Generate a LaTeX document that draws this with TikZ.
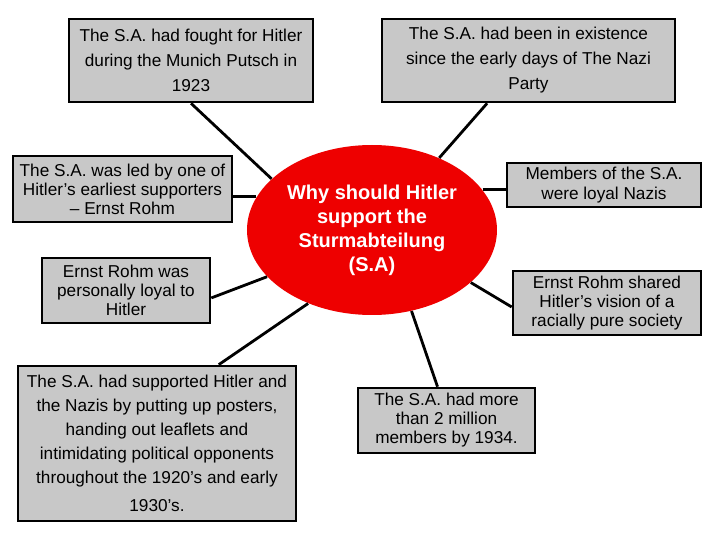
\documentclass[tikz,border=0pt]{standalone}
\usepackage{fontspec}
\setmainfont{Liberation Sans}
\usetikzlibrary{shapes.geometric,calc}
\definecolor{boxgray}{RGB}{200,200,200}
\definecolor{centerred}{RGB}{238,0,0}
\begin{document}
\begin{tikzpicture}[x=0.5pt,y=-0.5pt,
  infobox/.style={draw=black,line width=1.3pt,fill=boxgray,align=center,inner sep=0pt,
    font=\fontsize{8.6pt}{9.5pt}\selectfont},
  widebox/.style={infobox,font=\fontsize{8.6pt}{12.5pt}\selectfont},
  link/.style={draw=black,line width=1.4pt}]
\useasboundingbox (0,0) rectangle (720,540);
\fill[white] (0,0) rectangle (720,540);

\node[widebox,minimum width=122pt,minimum height=41.5pt] (b1) at (191,60.5)
  {The S.A. had fought for Hitler\\during the Munich Putsch in\\1923};
\node[widebox,minimum width=146.5pt,minimum height=41.5pt] (b2) at (528.5,60.5)
  {The S.A. had been in existence\\since the early days of The Nazi\\Party};
\node[infobox,minimum width=109.5pt,minimum height=33pt] (b3) at (122.5,189)
  {The S.A. was led by one of\\Hitler’s earliest supporters\\– Ernst Rohm};
\node[infobox,minimum width=84pt,minimum height=32.5pt] (b4) at (126,290.5)
  {Ernst Rohm was\\personally loyal to\\Hitler};
\node[infobox,minimum width=97pt,minimum height=22pt,font=\fontsize{8.6pt}{10pt}\selectfont] (b5) at (604,185)
  {Members of the S.A.\\were loyal Nazis};
\node[infobox,minimum width=94pt,minimum height=32pt] (b6) at (607,303)
  {Ernst Rohm shared\\Hitler’s vision of a\\racially pure society};
\node[infobox,minimum width=139pt,minimum height=77.5pt,font=\fontsize{8.6pt}{12pt}\selectfont] (b7) at (157,443.5)
  {The S.A. had supported Hitler and\\the Nazis by putting up posters,\\handing out leaflets and\\intimidating political opponents\\throughout the 1920’s and early\\[2pt]1930’s.};
\node[infobox,minimum width=88.5pt,minimum height=32.5pt] (b8) at (446.5,420.5)
  {The S.A. had more\\than 2 million\\members by 1934.};

\node[ellipse,fill=centerred,minimum width=125pt,minimum height=85pt,inner sep=0pt,
  text=white,align=center,font=\bfseries\fontsize{10pt}{12pt}\selectfont] (c) at (372,230)
  {Why should Hitler\\support the\\Sturmabteilung\\(S.A)};

\draw[link] (b1.south) -- (c.153);
\draw[link] ($(b2.south west)!0.36!(b2.south east)$) -- (c.47);
\draw[link] (c.164) -- (c.164 -| b3.east);
\draw[link] ($(b4.north east)!0.61!(b4.south east)$) -- (c.204);
\draw[link] (c.20) -- (c.20 -| b5.west);
\draw[link] ($(b6.north west)!0.56!(b6.south west)$) -- (c.332);
\draw[link] ($(b7.north west)!0.72!(b7.north east)$) -- (c.229);
\draw[link] ($(b8.north west)!0.45!(b8.north east)$) -- (c.296);
\end{tikzpicture}
\end{document}
